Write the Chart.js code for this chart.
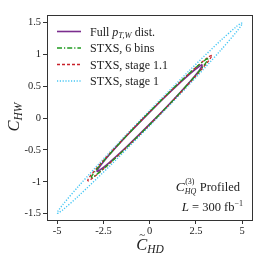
<!DOCTYPE html>
<html>
<head>
<meta charset="utf-8">
<script src="https://cdn.jsdelivr.net/npm/chart.js@4.4.0/dist/chart.umd.min.js"></script>
<style>
  html, body { margin: 0; padding: 0; background: #fff; }
  #wrap { width: 262px; height: 262px; }
</style>
</head>
<body>
<div id="wrap"><canvas id="chart" width="262" height="262"></canvas></div>
<script>
// contour points (C~HD, CHW)
const fullHD = [2.85, 2.822, 2.679, 2.183, 1.206, 0, -1.206, -2.183, -2.679, -2.822, -2.85, -2.822, -2.679, -2.183, -1.206, 0, 1.206, 2.183, 2.679, 2.822, 2.85];
const fullHW = [0.832, 0.837, 0.814, 0.698, 0.438, 0.095, -0.266, -0.576, -0.750, -0.811, -0.832, -0.837, -0.814, -0.698, -0.438, -0.095, 0.266, 0.576, 0.750, 0.811, 0.832];

const sixHD = [3.15, 3.119, 2.961, 2.413, 1.332, 0, -1.332, -2.413, -2.961, -3.119, -3.15, -3.119, -2.961, -2.413, -1.332, 0, 1.332, 2.413, 2.961, 3.119, 3.15];
const sixHW = [0.929, 0.934, 0.907, 0.776, 0.484, 0.10, -0.302, -0.648, -0.839, -0.906, -0.929, -0.934, -0.907, -0.776, -0.484, -0.10, 0.302, 0.648, 0.839, 0.906, 0.929];

const s11HD = [3.35, 3.317, 3.149, 2.566, 1.417, 0, -1.417, -2.566, -3.149, -3.317, -3.35, -3.317, -3.149, -2.566, -1.417, 0, 1.417, 2.566, 3.149, 3.317, 3.35];
const s11HW = [0.98, 0.984, 0.955, 0.815, 0.506, 0.10, -0.324, -0.687, -0.887, -0.956, -0.98, -0.984, -0.955, -0.815, -0.506, -0.10, 0.324, 0.687, 0.887, 0.956, 0.98];

const s1HD = [5, 4.95, 4.70, 3.83, 2.115, 0, -2.115, -3.83, -4.70, -4.95, -5, -4.95, -4.70, -3.83, -2.115, 0, 2.115, 3.83, 4.70, 4.95, 5];
const s1HW = [1.49, 1.492, 1.442, 1.218, 0.739, 0.12, -0.521, -1.064, -1.360, -1.458, -1.49, -1.492, -1.442, -1.218, -0.739, -0.12, 0.521, 1.064, 1.360, 1.458, 1.49];

const hdTicks = [-5, -2.5, 0, 2.5, 5];
const hwTicks = [-1.5, -1, -0.5, 0, 0.5, 1, 1.5];

const serif = '"Liberation Serif", "DejaVu Serif", serif';
const ink = '#222';

function pts(xs, ys) {
    return xs.map((x, i) => ({ x: x, y: ys[i] }));
}

const series = [
    { label: 'full', data: pts(fullHD, fullHW), color: '#7b2d8e', dash: [], width: 1.6, order: 3 },
    { label: 'six', data: pts(sixHD, sixHW), color: '#1f9a1f', dash: [5, 2, 1.2, 2], width: 1.3, order: 1 },
    { label: 's11', data: pts(s11HD, s11HW), color: '#c8202a', dash: [3, 2], width: 1.3, order: 2 },
    { label: 's1', data: pts(s1HD, s1HW), color: '#45c6f4', dash: [1.2, 1.6], width: 1.4, order: 4 }
];

// draws a run of text pieces: italic, size, dy (baseline shift), dx, nox (do not advance)
function rich(ctx, parts, x, y, align) {
    let w = 0;
    parts.forEach(p => {
        ctx.font = (p.italic ? 'italic ' : '') + (p.size || 12) + 'px ' + serif;
        p.w = ctx.measureText(p.t).width;
        if (!p.nox) w += p.w + (p.gap || 0);
    });
    let cx = align === 'right' ? x - w : align === 'center' ? x - w / 2 : x;
    parts.forEach(p => {
        ctx.font = (p.italic ? 'italic ' : '') + (p.size || 12) + 'px ' + serif;
        ctx.fillText(p.t, cx + (p.dx || 0), y + (p.dy || 0));
        if (!p.nox) cx += p.w + (p.gap || 0);
    });
}

const overlay = {
    id: 'overlay',
    afterDraw(chart) {
        const ctx = chart.ctx;
        const a = chart.chartArea;
        ctx.save();
        ctx.strokeStyle = '#333';
        ctx.lineWidth = 1;
        ctx.setLineDash([]);
        ctx.strokeRect(Math.round(a.left) + 0.5, Math.round(a.top) + 0.5,
            Math.round(a.right - a.left), Math.round(a.bottom - a.top));

        ctx.fillStyle = ink;
        ctx.textBaseline = 'alphabetic';

        // legend
        const rows = [
            [{ t: 'Full ' }, { t: 'p', italic: true }, { t: 'T,W', italic: true, size: 8.5, dy: 2 }, { t: ' dist.' }],
            [{ t: 'STXS, 6 bins' }],
            [{ t: 'STXS, stage 1.1' }],
            [{ t: 'STXS, stage 1' }]
        ];
        const rowY = [31.5, 48, 64.5, 81];
        rows.forEach((r, i) => {
            const s = series[i];
            ctx.strokeStyle = s.color;
            ctx.lineWidth = s.width;
            ctx.setLineDash(s.dash);
            ctx.beginPath();
            ctx.moveTo(57, rowY[i]);
            ctx.lineTo(81, rowY[i]);
            ctx.stroke();
            rich(ctx, r, 90, rowY[i] + 4, 'left');
        });
        ctx.setLineDash([]);

        // annotation
        rich(ctx, [
            { t: 'C', italic: true, size: 13.5 },
            { t: '(3)', size: 8, dy: -7, nox: true, dx: 0.5 },
            { t: 'HQ', italic: true, size: 8, dy: 3, gap: 3.5 },
            { t: 'Profiled', size: 12.5 }
        ], 240, 191, 'right');
        rich(ctx, [
            { t: 'L', italic: true, size: 13 },
            { t: ' = 300 ', size: 12.5 },
            { t: 'fb', size: 12.5 },
            { t: '\u22121', size: 8, dy: -5.5 }
        ], 243, 211, 'right');

        // x title
        rich(ctx, [
            { t: 'C', italic: true, size: 16.5 },
            { t: '~', size: 11, dy: -12, dx: -8, nox: true },
            { t: 'HD', italic: true, size: 11.5, dy: 3 }
        ], 150, 250, 'center');

        // y title
        ctx.save();
        ctx.translate(19, 117);
        ctx.rotate(-Math.PI / 2);
        rich(ctx, [
            { t: 'C', italic: true, size: 16.5 },
            { t: 'HW', italic: true, size: 11.5, dy: 3 }
        ], 0, 0, 'center');
        ctx.restore();

        ctx.restore();
    }
};

new Chart(document.getElementById('chart').getContext('2d'), {
    type: 'scatter',
    data: {
        datasets: series.map(s => ({
            label: s.label,
            data: s.data,
            showLine: true,
            borderColor: s.color,
            borderWidth: s.width,
            borderDash: s.dash,
            pointRadius: 0,
            tension: 0.3,
            fill: false,
            order: s.order
        }))
    },
    options: {
        responsive: false,
        animation: false,
        layout: { padding: { left: 0, right: 10.5, top: 15, bottom: 0 } },
        plugins: { legend: { display: false }, tooltip: { enabled: false } },
        scales: {
            x: {
                type: 'linear',
                min: -5.55,
                max: 5.5,
                afterBuildTicks: scale => { scale.ticks = hdTicks.map(v => ({ value: v })); },
                afterFit: scale => { scale.height = 42; },
                ticks: {
                    color: ink,
                    font: { family: serif, size: 10.5 },
                    padding: 1,
                    maxRotation: 0,
                    callback: v => String(v)
                },
                grid: { drawOnChartArea: false, drawTicks: true, tickLength: 4, color: '#333' },
                border: { display: false }
            },
            y: {
                type: 'linear',
                min: -1.6,
                max: 1.62,
                afterBuildTicks: scale => { scale.ticks = hwTicks.map(v => ({ value: v })); },
                afterFit: scale => { scale.width = 47; },
                ticks: {
                    color: ink,
                    font: { family: serif, size: 10.5 },
                    padding: 2,
                    callback: v => String(v)
                },
                grid: { drawOnChartArea: false, drawTicks: true, tickLength: 4, color: '#333' },
                border: { display: false }
            }
        }
    },
    plugins: [overlay]
});
</script>
</body>
</html>
